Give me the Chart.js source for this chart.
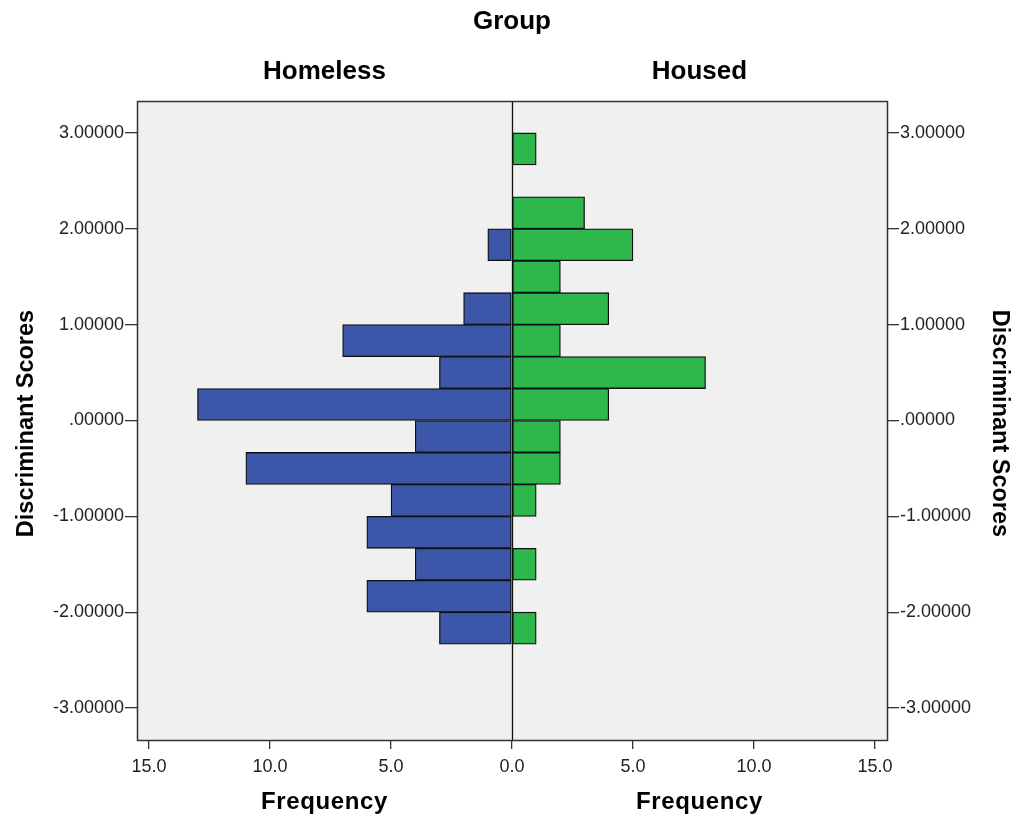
<!DOCTYPE html>
<html>
<head>
<meta charset="utf-8">
<script src="https://cdn.jsdelivr.net/npm/chart.js@4/dist/chart.umd.min.js"></script>
<style>
  html, body { margin: 0; padding: 0; background: #ffffff; }
  #wrap { width: 1015px; height: 818px; }
</style>
</head>
<body>
<div id="wrap"><canvas id="c" width="1015" height="818"></canvas></div>
<script>
// Histogram bins of discriminant scores (bin centres, width 1/3)
const binCenters = [2.8333, 2.5, 2.1667, 1.8333, 1.5, 1.1667, 0.8333, 0.5,
                    0.1667, -0.1667, -0.5, -0.8333, -1.1667, -1.5, -1.8333, -2.1667];
// Frequencies per bin for each group
const homeless = [0, 0, 0, 1, 0, 2, 7, 3, 13, 4, 11, 5, 6, 4, 6, 3];
const housed   = [1, 0, 3, 5, 2, 4, 2, 8, 4, 2, 2, 1, 0, 1, 0, 1];

const groupNames = ['Homeless', 'Housed'];
const scoreTicks = [3, 2, 1, 0, -1, -2, -3];
const scoreTickLabels = ['3.00000', '2.00000', '1.00000', '.00000', '-1.00000', '-2.00000', '-3.00000'];
const freqTicks = [-15, -10, -5, 0, 5, 10, 15];
const freqTickLabels = ['15.0', '10.0', '5.0', '0.0', '5.0', '10.0', '15.0'];

const BLUE = '#3c56a9';
const GREEN = '#2eb84b';
const FONT = '"Liberation Sans", Arial, sans-serif';

// Homeless bars extend to the left (negative side of a shared frequency axis)
const leftData = binCenters.map((c, i) => ({ y: c, x: homeless[i] ? -homeless[i] : null }));
const rightData = binCenters.map((c, i) => ({ y: c, x: housed[i] ? housed[i] : null }));

const gridStyle = (len) => ({
  offset: false,
  drawOnChartArea: false,
  drawTicks: true,
  tickLength: len,
  color: '#333333',
  tickColor: '#333333',
  lineWidth: 1.3,
  tickWidth: 1.3
});

const decorations = {
  id: 'decorations',
  beforeDraw(chart) {
    const { ctx, chartArea: a } = chart;
    ctx.save();
    ctx.fillStyle = '#f0f0f0';
    ctx.fillRect(a.left, a.top, a.right - a.left, a.bottom - a.top);
    ctx.restore();
  },
  beforeDatasetsDraw(chart) {
    const { ctx, chartArea: a, scales } = chart;
    const x0 = Math.round(scales.x.getPixelForValue(0)) + 0.5;
    ctx.save();
    ctx.strokeStyle = '#111111';
    ctx.lineWidth = 1.3;
    ctx.beginPath();
    ctx.moveTo(x0, a.top);
    ctx.lineTo(x0, a.bottom);
    ctx.stroke();
    ctx.restore();
  },
  afterDatasetsDraw(chart) {
    const { ctx, chartArea: a } = chart;
    ctx.save();
    ctx.strokeStyle = '#333333';
    ctx.lineWidth = 1.5;
    ctx.strokeRect(a.left + 0.5, a.top + 0.5, a.right - a.left, a.bottom - a.top);
    ctx.restore();
  },
  afterDraw(chart) {
    const { ctx, chartArea: a, scales } = chart;
    const x0 = scales.x.getPixelForValue(0);
    const leftMid = (a.left + x0) / 2;
    const rightMid = (x0 + a.right) / 2;
    const titleY = scales.y.getPixelForValue(0) + 3;
    ctx.save();
    ctx.fillStyle = '#000000';
    ctx.textAlign = 'center';
    ctx.textBaseline = 'alphabetic';
    ctx.font = 'bold 26px ' + FONT;
    ctx.fillText('Group', x0, 29);
    ctx.fillText(groupNames[0], leftMid, 79);
    ctx.fillText(groupNames[1], rightMid, 79);
    ctx.font = 'bold 24px ' + FONT;
    ctx.letterSpacing = '0.6px';
    ctx.fillText('Frequency', leftMid, 809);
    ctx.fillText('Frequency', rightMid, 809);
    ctx.letterSpacing = '0px';
    // vertical axis titles
    ctx.font = 'bold 23.5px ' + FONT;
    ctx.save();
    ctx.translate(33, titleY);
    ctx.rotate(-Math.PI / 2);
    ctx.fillText('Discriminant Scores', 0, 0);
    ctx.restore();
    ctx.save();
    ctx.translate(993, titleY);
    ctx.rotate(Math.PI / 2);
    ctx.fillText('Discriminant Scores', 0, 0);
    ctx.restore();
    ctx.restore();
  }
};

new Chart(document.getElementById('c'), {
  type: 'bar',
  data: {
    datasets: [
      {
        label: groupNames[0],
        data: leftData,
        backgroundColor: BLUE,
        borderColor: '#111111',
        borderWidth: 1.3,
        borderSkipped: false,
        grouped: false,
        barPercentage: 1,
        categoryPercentage: 1
      },
      {
        label: groupNames[1],
        data: rightData,
        backgroundColor: GREEN,
        borderColor: '#111111',
        borderWidth: 1.3,
        borderSkipped: false,
        grouped: false,
        barPercentage: 1,
        categoryPercentage: 1
      }
    ]
  },
  options: {
    indexAxis: 'y',
    responsive: false,
    animation: false,
    devicePixelRatio: 1,
    layout: { padding: { top: 101, left: 0, right: 0, bottom: 0 } },
    plugins: {
      legend: { display: false },
      tooltip: { enabled: false },
      title: { display: false }
    },
    scales: {
      x: {
        type: 'linear',
        position: 'bottom',
        offset: false,
        min: -15.5,
        max: 15.5,
        border: { display: false },
        grid: gridStyle(9),
        afterBuildTicks(scale) { scale.ticks = freqTicks.map(v => ({ value: v })); },
        afterFit(scale) { scale.height = 78; },
        ticks: {
          autoSkip: false,
          maxRotation: 0,
          padding: 7,
          color: '#222222',
          font: { family: FONT, size: 18 },
          callback: (v, i) => freqTickLabels[i]
        }
      },
      y: {
        type: 'linear',
        position: 'left',
        offset: false,
        min: -10 / 3,
        max: 10 / 3,
        border: { display: false },
        grid: gridStyle(12),
        afterBuildTicks(scale) { scale.ticks = scoreTicks.map(v => ({ value: v })); },
        afterFit(scale) { scale.width = 137; },
        ticks: {
          autoSkip: false,
          padding: 1,
          color: '#222222',
          font: { family: FONT, size: 18 },
          callback: (v, i) => scoreTickLabels[i]
        }
      },
      y2: {
        type: 'linear',
        position: 'right',
        offset: false,
        min: -10 / 3,
        max: 10 / 3,
        border: { display: false },
        grid: gridStyle(12),
        afterBuildTicks(scale) { scale.ticks = scoreTicks.map(v => ({ value: v })); },
        afterFit(scale) { scale.width = 128; },
        ticks: {
          autoSkip: false,
          padding: 1,
          color: '#222222',
          font: { family: FONT, size: 18 },
          callback: (v, i) => scoreTickLabels[i]
        }
      }
    }
  },
  plugins: [decorations]
});
</script>
</body>
</html>
